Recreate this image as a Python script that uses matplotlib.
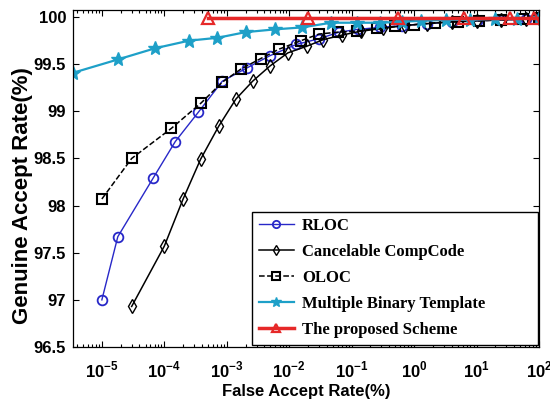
import matplotlib
matplotlib.use("Agg")
import matplotlib.pyplot as plt
from matplotlib.ticker import LogLocator, FixedLocator, NullFormatter

plt.rcParams['mathtext.fontset'] = 'custom'
plt.rcParams['mathtext.rm'] = 'Liberation Sans:bold'
plt.rcParams['mathtext.bf'] = 'Liberation Sans:bold'
plt.rcParams['font.family'] = ['Liberation Sans', 'DejaVu Sans']

# FAR (%) and GAR (%) for each method
rloc_far = [1.0e-5, 1.8e-5, 6.6e-5, 1.5e-4, 3.5e-4, 8.5e-4, 2.1e-3, 4.9e-3, 1.3e-2,
            3.0e-2, 6.3e-2, 0.126, 0.28, 0.63, 1.6, 4.0, 10, 25, 63, 100]
rloc_gar = [97.00, 97.67, 98.29, 98.68, 98.99, 99.32, 99.46, 99.59, 99.71, 99.77,
            99.84, 99.87, 99.89, 99.91, 99.93, 99.95, 99.96, 99.97, 99.98, 99.99]

ccc_far = [3.0e-5, 1.0e-4, 2.0e-4, 3.8e-4, 7.4e-4, 1.4e-3, 2.6e-3, 4.9e-3, 9.5e-3,
           1.9e-2, 3.5e-2, 7.1e-2, 0.14, 0.32, 0.71, 1.6, 4.0, 10, 25, 63, 100]
ccc_gar = [96.93, 97.57, 98.07, 98.49, 98.84, 99.13, 99.32, 99.48, 99.62, 99.69,
           99.76, 99.81, 99.85, 99.88, 99.91, 99.93, 99.95, 99.96, 99.97, 99.98, 99.99]

oloc_far = [1.0e-5, 3.0e-5, 1.3e-4, 3.9e-4, 8.5e-4, 1.7e-3, 3.5e-3, 6.9e-3, 1.55e-2,
            3.0e-2, 6.0e-2, 0.12, 0.25, 0.5, 1.0, 2.2, 5.0, 11, 25, 56, 100]
oloc_gar = [98.07, 98.50, 98.82, 99.09, 99.31, 99.45, 99.56, 99.66, 99.75, 99.82,
            99.84, 99.85, 99.88, 99.90, 99.92, 99.94, 99.95, 99.96, 99.97, 99.98, 99.99]

mbt_far = [3.5e-6, 1.8e-5, 7.2e-5, 2.5e-4, 7.1e-4, 2.0e-3, 6.0e-3, 1.6e-2, 4.7e-2,
           0.12, 0.28, 0.63, 1.3, 3.2, 8.0, 20, 45, 100]
mbt_gar = [99.41, 99.55, 99.67, 99.75, 99.78, 99.84, 99.87, 99.89, 99.94, 99.94,
           99.94, 99.95, 99.96, 99.97, 99.97, 99.98, 99.98, 99.99]

prop_far = [5.0e-4, 2.0e-2, 0.56, 6.2, 34, 84]
prop_gar = [99.985, 99.985, 99.985, 99.985, 99.985, 99.985]

labels = ['RLOC', 'Cancelable CompCode', 'OLOC', 'Multiple Binary Template',
          'The proposed Scheme']

y_ticks = [96.5, 97, 97.5, 98, 98.5, 99, 99.5, 100]
x_ticks = [1e-5, 1e-4, 1e-3, 1e-2, 1e-1, 1e0, 1e1, 1e2]
x_tick_labels = [r'$10^{-5}$', r'$10^{-4}$', r'$10^{-3}$', r'$10^{-2}$',
                 r'$10^{-1}$', r'$10^{0}$', r'$10^{1}$', r'$10^{2}$']

fig = plt.figure(figsize=(5.5, 4.03), dpi=100)
ax = fig.add_axes([73/550, 1 - 347/403, 466/550, 337/403])

blue = '#2828c8'
cyan = '#1ea0c8'
red = '#e62828'

ax.plot(rloc_far, rloc_gar, '-', color=blue, lw=1.0, marker='o', ms=7,
        mfc='none', mec=blue, mew=1.3, label=labels[0])
ax.plot(ccc_far, ccc_gar, '-', color='black', lw=1.1, marker='d', ms=7,
        mfc='none', mec='black', mew=1.0, label=labels[1])
ax.plot(oloc_far, oloc_gar, '--', color='black', lw=1.1, marker='s', ms=7,
        mfc='none', mec='black', mew=1.5, label=labels[2])
ax.plot(mbt_far, mbt_gar, '-', color=cyan, lw=1.6, marker='*', ms=10,
        mfc=cyan, mec=cyan, label=labels[3])
ax.plot(prop_far + [100], prop_gar + [prop_gar[-1]], '-', color=red, lw=2.5)
ax.plot(prop_far, prop_gar, 'none', marker='^', ms=8, mfc='none', mec=red,
        mew=1.6, color=red)
ax.plot([], [], '-', color=red, lw=2.5, marker='^', ms=8, mfc='none', mec=red,
        mew=1.6, label=labels[4])

ax.set_xscale('log')
ax.set_xlim(3.45e-6, 100)
ax.set_ylim(96.5, 100.075)

ax.xaxis.set_major_locator(FixedLocator(x_ticks))
ax.set_xticklabels(x_tick_labels)
ax.xaxis.set_minor_locator(LogLocator(base=10, subs=range(2, 10), numticks=20))
ax.xaxis.set_minor_formatter(NullFormatter())
ax.set_yticks(y_ticks)
ax.set_yticklabels(['96.5', '97', '97.5', '98', '98.5', '99', '99.5', '100'])

ax.tick_params(which='both', direction='in', top=True, right=True,
               labelsize=12, width=0.8)
ax.tick_params(axis='x', which='major', pad=9)
ax.tick_params(axis='y', which='major', pad=5)
ax.tick_params(which='major', length=4)
ax.tick_params(which='minor', length=2)
for lab in ax.get_yticklabels():
    lab.set_fontweight('bold')

for s in ax.spines.values():
    s.set_linewidth(0.9)

ax.set_xlabel('False Accept Rate(%)', fontsize=12, fontweight='bold', labelpad=3)
ax.set_ylabel('Genuine Accept Rate(%)', fontsize=16, fontweight='bold')
ax.yaxis.set_label_coords(-0.086, 0.448)

leg = ax.legend(loc='lower left', bbox_to_anchor=(0.384, 0.006, 0.614, 0.4),
                mode='expand', borderaxespad=0, fancybox=False, framealpha=1,
                edgecolor='black', handlelength=2.1, handletextpad=0.5,
                labelspacing=0.6, borderpad=0.4, markerscale=0.75,
                prop={'family': 'Liberation Serif', 'weight': 'bold', 'size': 12})
leg.get_frame().set_linewidth(1.0)

fig.savefig('out.png', dpi=100)
